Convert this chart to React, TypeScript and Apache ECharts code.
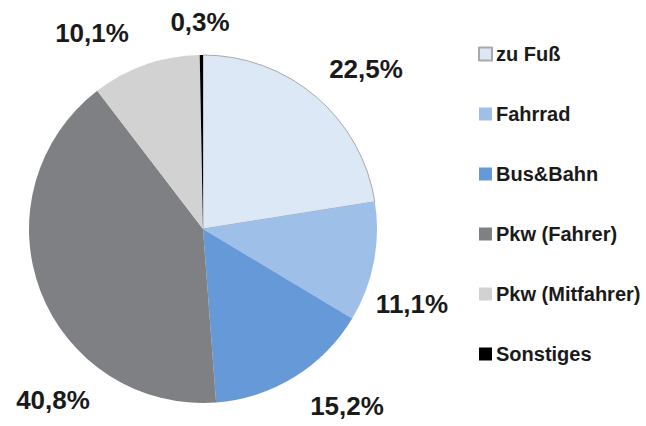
import React, { useEffect, useRef } from "react";
import * as echarts from "echarts";

const categories = ["zu Fuß", "Fahrrad", "Bus&Bahn", "Pkw (Fahrer)", "Pkw (Mitfahrer)", "Sonstiges"];
const values = [22.5, 11.1, 15.2, 40.8, 10.1, 0.3];
const colors = ["#dde8f6", "#9ec0e8", "#6699d8", "#7f8083", "#d2d2d2", "#000000"];
// label anchor offsets from pie centre (layout only)
const labelOffsets = [
  [163, -160],
  [209, 75],
  [144, 177],
  [-150, 171],
  [-111, -196],
  [-3, -207],
];

const CX = 203;
const CY = 229;

export default function App() {
  const ref = useRef<HTMLDivElement>(null);
  useEffect(() => {
    document.body.style.margin = "0";
    const chart = echarts.init(ref.current!, undefined, { renderer: "svg" });
    chart.setOption({
      animation: false,
      backgroundColor: "#ffffff",
      legend: {
        orient: "vertical",
        left: 473,
        top: 39,
        itemWidth: 13,
        itemHeight: 13,
        itemGap: 40,
        icon: "rect",
        textStyle: {
          fontFamily: "Liberation Sans, Arial, sans-serif",
          fontWeight: "bold",
          fontSize: 20,
          lineHeight: 20,
          color: "#1a1a1a",
          padding: [0, 0, 0, -1],
        },
        data: categories,
      },
      series: [
        {
          type: "pie",
          center: [CX, CY],
          radius: 174,
          startAngle: 90,
          clockwise: true,
          avoidLabelOverlap: false,
          label: {
            show: true,
            position: "outside",
            overflow: "none",
            formatter: (p: any) => values[p.dataIndex].toFixed(1).replace(".", ",") + "%",
            fontFamily: "Liberation Sans, Arial, sans-serif",
            fontWeight: "bold",
            fontSize: 26,
            color: "#1a1a1a",
          },
          labelLine: { show: false },
          labelLayout: (params: any) => {
            const o = labelOffsets[params.dataIndex];
            return {
              x: CX + o[0],
              y: CY + o[1],
              align: "center",
              verticalAlign: "middle",
              hideOverlap: false,
            };
          },
          data: categories.map((name, i) => ({
            name,
            value: values[i],
            itemStyle: {
              color: colors[i],
              borderColor: i === 0 ? "#a9a9a9" : colors[i],
              borderWidth: i === 0 ? 1 : 0,
            },
          })),
          emphasis: { disabled: true },
        },
      ],
    });
    return () => chart.dispose();
  }, []);
  return <div ref={ref} style={{ position: "fixed", left: 0, top: 0, width: 646, height: 426 }} />;
}
